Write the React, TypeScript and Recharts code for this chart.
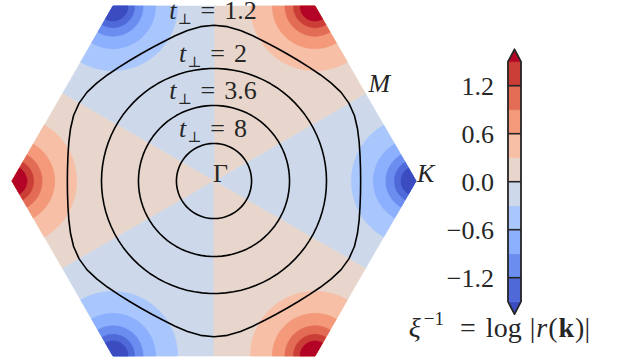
import { ScatterChart, Scatter, XAxis, YAxis } from 'recharts';

// k-space in units of |ΓK|: Γ at the origin, the six zone corners on the unit circle
const cornerAngles = [0, 60, 120, 180, 240, 300];
const cornerSigns = [-1, 1, -1, 1, -1, 1]; // sign of xi^-1 near each corner

// contourf levels of xi^-1 and the colour of every band (under, 10 bands, over)
const levels = [-1.5, -1.2, -0.9, -0.6, -0.3, 0, 0.3, 0.6, 0.9, 1.2, 1.5];
const bandColors = [
  '#3b4cc0', '#4f69d9', '#6b8df0', '#8caffe', '#aac7fd', '#cdd9ea',
  '#e8d6cc', '#f6bfa6', '#f49a7b', '#e36c55', '#cb3e38', '#b40426',
];
// distance from a corner of the |xi^-1| = 0.3, 0.6, 0.9, 1.2, 1.5 contours
const cornerRadii = [0.32, 0.211, 0.149, 0.107, 0.074];

// t_perp contour lines
const circleLabels = ['2', '3.6', '8'];
const circleRadii = [0.557, 0.374, 0.186];
const outerLabel = '1.2';
const outerAngles = [0, 5, 10, 15, 20, 25, 30]; // degrees away from a K direction
const outerRadii = [0.726, 0.728, 0.734, 0.744, 0.756, 0.767, 0.771];

const cbarTicks = [-1.2, -0.6, 0, 0.6, 1.2];

const FONT = '"Liberation Serif", "DejaVu Serif", serif';
const INK = '#262626';
const EXT = 0.155; // colorbar extension triangles

type P = { x: number; y: number };
const rad = Math.PI / 180;
const polar = (r: number, deg: number, ox = 0, oy = 0): P => ({
  x: ox + r * Math.cos(deg * rad),
  y: oy + r * Math.sin(deg * rad),
});
const steps = (from: number, to: number, step: number) => {
  const out: number[] = [];
  for (let d = from; d <= to + 1e-9; d += step) out.push(d);
  return out;
};

const mR = Math.cos(30 * rad);
const sectors = cornerAngles.map((a, i) => ({
  color: bandColors[cornerSigns[i] > 0 ? 6 : 5],
  pts: [polar(0, 0), polar(mR, a - 30), polar(1, a), polar(mR, a + 30)],
}));

const wedges: { color: string; pts: P[] }[] = [];
cornerAngles.forEach((a, i) => {
  const k = polar(1, a);
  cornerRadii.forEach((r, j) => {
    wedges.push({
      color: bandColors[cornerSigns[i] > 0 ? 7 + j : 4 - j],
      pts: [k, ...steps(a + 120, a + 240, 4).map((d) => polar(r, d, k.x, k.y))],
    });
  });
});

const circles = circleRadii.map((r) => steps(0, 360, 4).map((d) => polar(r, d)));
const outer: P[] = [];
for (let s = 0; s < 6; s++) {
  const base = s * 60;
  outerAngles.forEach((phi, j) => outer.push(polar(outerRadii[j], base + phi)));
  for (let j = outerAngles.length - 2; j >= 1; j--) {
    outer.push(polar(outerRadii[j], base + 60 - outerAngles[j]));
  }
}
outer.push(outer[0]);

const cbarPolys = bandColors.map((color, i) => {
  let pts: P[];
  if (i === 0) pts = [{ x: 0, y: levels[0] }, { x: 1, y: levels[0] }, { x: 0.5, y: levels[0] - EXT }];
  else if (i === bandColors.length - 1) {
    const top = levels[levels.length - 1];
    pts = [{ x: 0, y: top }, { x: 1, y: top }, { x: 0.5, y: top + EXT }];
  } else {
    pts = [
      { x: 0, y: levels[i - 1] }, { x: 1, y: levels[i - 1] },
      { x: 1, y: levels[i] }, { x: 0, y: levels[i] },
    ];
  }
  return { color, pts };
});
const lo = levels[0];
const hi = levels[levels.length - 1];
const cbarOutline: P[] = [
  { x: 0, y: lo }, { x: 0.5, y: lo - EXT }, { x: 1, y: lo },
  { x: 1, y: hi }, { x: 0.5, y: hi + EXT }, { x: 0, y: hi }, { x: 0, y: lo },
];

const pathOf = (pts: { x: number; y: number }[], close: boolean) =>
  pts.map((p, i) => `${i ? 'L' : 'M'}${p.x.toFixed(2)},${p.y.toFixed(2)}`).join('') + (close ? 'Z' : '');
const filled = (color: string) => (props: any) => (
  <path d={pathOf(props.points, true)} fill={color} stroke={color} strokeWidth={0.6} />
);
const stroked = (color: string, width: number) => (props: any) => (
  <path d={pathOf(props.points, false)} fill="none" stroke={color} strokeWidth={width} strokeLinejoin="round" />
);
const noDot = () => <g />;

const tText = (value: string) => (
  <>
    <tspan fontStyle="italic">t</tspan>
    <tspan fontFamily='"DejaVu Serif", serif' fontSize={15} dy={5} dx={1}>⊥</tspan>
    <tspan dy={-5} dx={9}>=</tspan>
    <tspan dx={9}>{value}</tspan>
  </>
);

const labelAt = (content: any, dx: number, dy: number, anchor: string) => (props: any) => (
  <text x={props.cx + dx} y={props.cy + dy} textAnchor={anchor} fontFamily={FONT} fontSize={26} fill={INK}>
    {content}
  </text>
);

const fmt = (v: number) => (v < 0 ? '\u2212' + Math.abs(v).toFixed(1) : v.toFixed(1));

export default function App() {
  const tLabels = [
    { y: outerRadii[outerRadii.length - 1], text: outerLabel },
    ...circleRadii.map((r, i) => ({ y: r, text: circleLabels[i] })),
  ];
  return (
    <div style={{ position: 'absolute', left: 0, top: 0, width: 618, height: 362, background: '#fff' }}>
      <ScatterChart width={618} height={362} margin={{ top: 0, right: 0, bottom: 0, left: 0 }}>
        <XAxis type="number" dataKey="x" domain={[-1.0594, 2.0]} hide />
        <YAxis type="number" dataKey="y" domain={[-0.896, 0.896]} hide />
        {sectors.map((s, i) => (
          <Scatter key={'sec' + i} data={s.pts} line={filled(s.color)} lineType="joint" shape={noDot} isAnimationActive={false} />
        ))}
        {wedges.map((w, i) => (
          <Scatter key={'w' + i} data={w.pts} line={filled(w.color)} lineType="joint" shape={noDot} isAnimationActive={false} />
        ))}
        {circles.map((c, i) => (
          <Scatter key={'c' + i} data={c} line={stroked('#000', 1.6)} lineType="joint" shape={noDot} isAnimationActive={false} />
        ))}
        <Scatter data={outer} line={stroked('#000', 1.6)} lineType="joint" shape={noDot} isAnimationActive={false} />
        {tLabels.map((t, i) => (
          <Scatter key={'t' + i} data={[{ x: 0, y: t.y }]} shape={labelAt(tText(t.text), -1, -6, 'middle')} isAnimationActive={false} />
        ))}
        <Scatter data={[{ x: 0, y: 0 }]} shape={labelAt('Γ', -1, 1, 'start')} isAnimationActive={false} />
        <Scatter data={[polar(mR, 30)]} shape={labelAt(<tspan fontStyle="italic">M</tspan>, 3, -2, 'start')} isAnimationActive={false} />
        <Scatter data={[polar(1, 0)]} shape={labelAt(<tspan fontStyle="italic">K</tspan>, 1, 1, 'start')} isAnimationActive={false} />
      </ScatterChart>

      <div style={{ position: 'absolute', left: 430, top: 40 }}>
        <ScatterChart width={100} height={290} margin={{ top: 9.3, right: 9, bottom: 15.9, left: 0 }}>
          <XAxis type="number" dataKey="x" domain={[0, 1]} hide />
          <YAxis
            type="number"
            dataKey="y"
            domain={[lo - EXT, hi + EXT]}
            ticks={cbarTicks}
            interval={0}
            width={78}
            axisLine={false}
            tickLine={false}
            tickSize={0}
            tickMargin={14}
            tick={{ fontFamily: FONT, fontSize: 26, fill: INK }}
            tickFormatter={fmt}
          />
          {cbarPolys.map((b, i) => (
            <Scatter key={'cb' + i} data={b.pts} line={filled(b.color)} lineType="joint" shape={noDot} isAnimationActive={false} />
          ))}
          {cbarTicks.map((t) => (
            <Scatter key={'tk' + t} data={[{ x: 0, y: t }, { x: 1, y: t }]} line={stroked(INK, 1.6)} lineType="joint" shape={noDot} isAnimationActive={false} />
          ))}
          <Scatter data={cbarOutline} line={stroked(INK, 1.8)} lineType="joint" shape={noDot} isAnimationActive={false} />
        </ScatterChart>
      </div>

      <svg width={618} height={362} style={{ position: 'absolute', left: 0, top: 0, pointerEvents: 'none' }}>
        <text x={590} y={337} textAnchor="end" fontFamily={FONT} fontSize={28} fill={INK}>
          <tspan fontStyle="italic">ξ</tspan>
          <tspan fontSize={19} dy={-12} dx={3}>−1</tspan>
          <tspan dy={12} dx={16}>=</tspan>
          <tspan dx={10}>log</tspan>
          <tspan dx={8}>|</tspan>
          <tspan fontStyle="italic" dx={1}>r</tspan>
          <tspan dx={1}>(</tspan>
          <tspan fontWeight="bold" dx={1}>k</tspan>
          <tspan dx={1}>)</tspan>
          <tspan>|</tspan>
        </text>
      </svg>
    </div>
  );
}
